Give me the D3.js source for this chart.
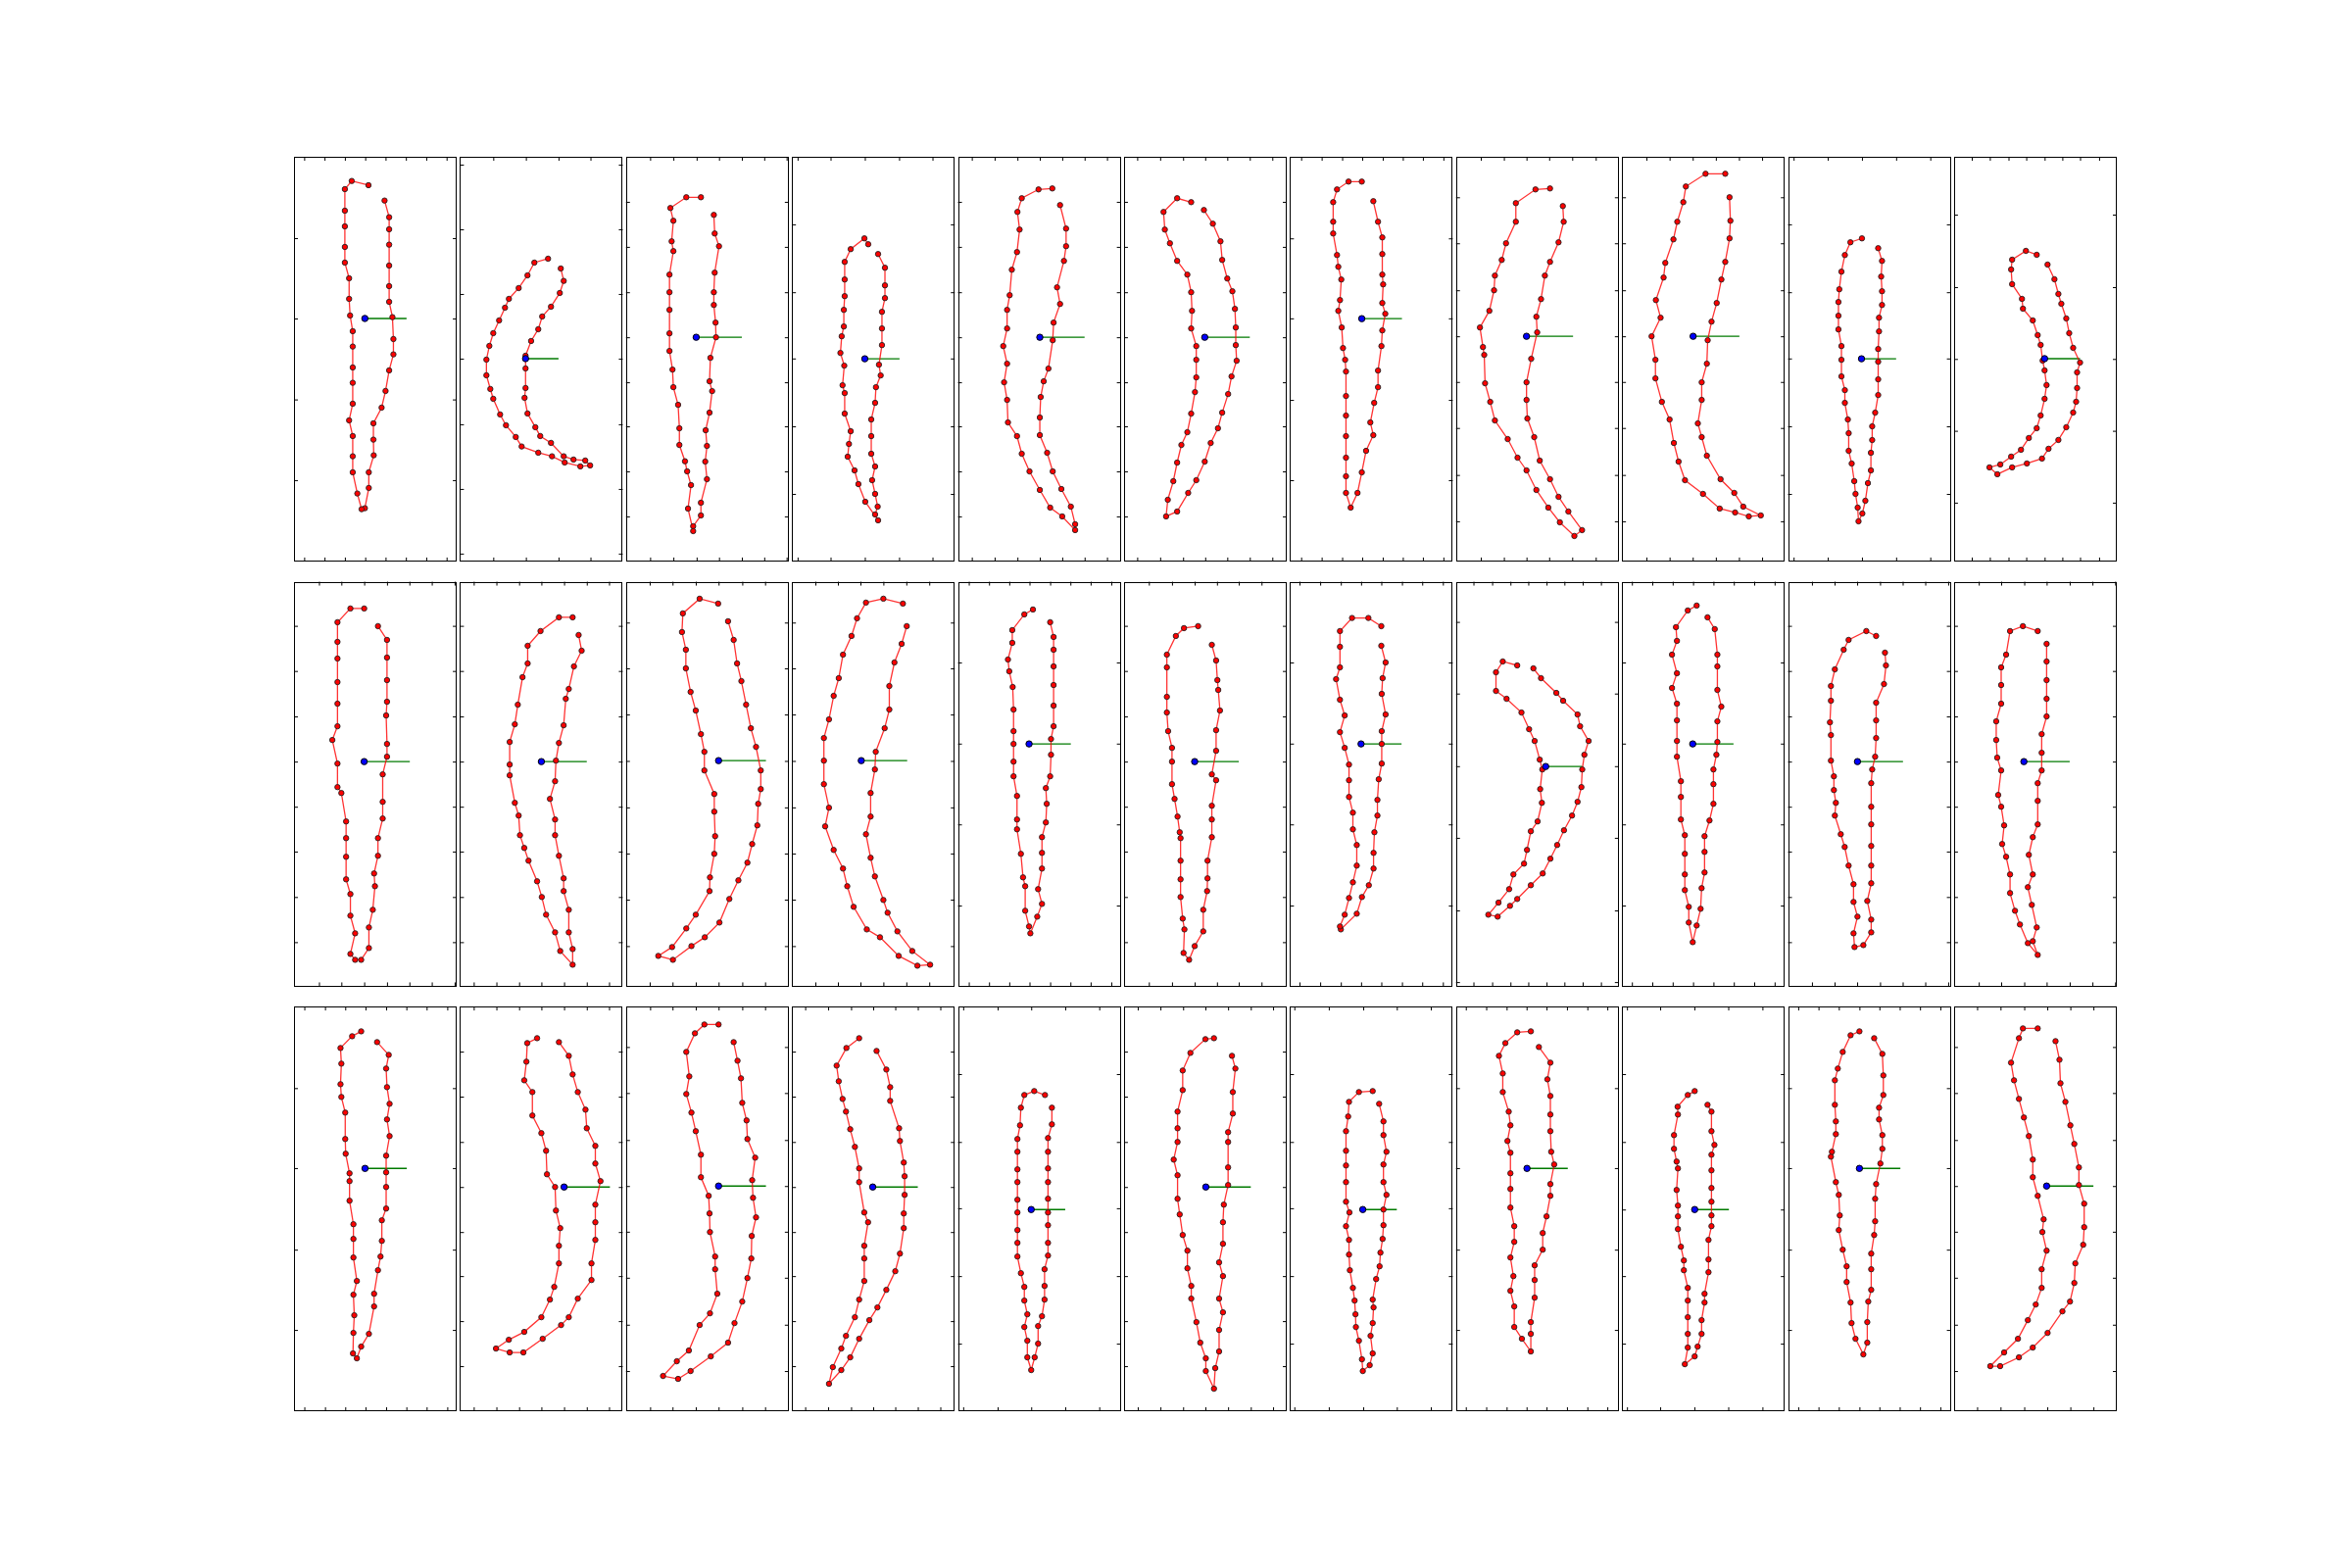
<!DOCTYPE html>
<html><head><meta charset="utf-8">
<script src="https://cdn.jsdelivr.net/npm/d3@7"></script>
<style>body{margin:0;background:#fff}svg{display:block}</style>
</head><body>
<script>
// ---- contour readings, one list per panel (row r, column c), in each panel's own axis units ----
const r1c1 = [[307,165],[321,216],[321,253],[321,300],[321,364],[321,427],[321,475],[331,522],[334,589],[334,636],[321,685],[310,748],[298,799],[273,847],[273,897],[274,945],[259,997],[259,1045],[247,1107],[237,1110],[224,1062],[210,997],[210,948],[210,886],[199,838],[210,787],[210,723],[210,676],[210,612],[210,565],[202,517],[199,466],[199,403],[186,355],[186,307],[186,244],[186,196],[186,130],[207,105],[258,118]];
const r1c2 = [[337,373],[346,411],[334,448],[307,490],[280,520],[268,559],[246,595],[229,640],[229,679],[229,739],[226,769],[235,817],[259,859],[274,886],[307,907],[346,948],[376,958],[412,961],[427,976],[397,979],[349,967],[310,948],[268,937],[217,918],[199,889],[169,853],[151,820],[130,772],[121,742],[109,700],[109,652],[118,610],[130,571],[148,532],[166,493],[178,466],[208,433],[235,394],[256,355],[298,343]];
const r1c3 = [[216,193],[218,250],[228,289],[218,370],[216,430],[216,469],[220,523],[221,568],[208,631],[206,703],[212,733],[206,799],[197,853],[200,901],[196,949],[200,1003],[186,1075],[186,1114],[168,1147],[168,1162],[156,1093],[163,1021],[154,979],[149,948],[136,898],[136,847],[133,775],[122,721],[120,667],[113,610],[113,556],[113,484],[113,430],[113,376],[122,304],[118,274],[122,211],[115,172],[152,139],[186,139]];
const r1c4 = [[601,313],[617,355],[617,409],[617,448],[610,490],[610,541],[610,592],[603,652],[607,685],[596,721],[594,769],[585,820],[585,871],[585,925],[594,964],[587,1006],[594,1048],[600,1087],[594,1111],[601,1129],[571,1072],[555,1018],[546,976],[530,934],[533,895],[537,856],[523,802],[523,739],[518,715],[522,655],[513,616],[516,565],[521,535],[521,484],[523,442],[523,391],[523,337],[537,298],[569,265],[578,283]];
const r1c5 = [[1027,163],[1041,235],[1041,289],[1036,334],[1020,415],[1027,466],[1012,523],[1010,577],[1000,664],[989,703],[982,751],[980,814],[980,868],[997,922],[1010,979],[1030,1033],[1052,1087],[1062,1141],[1062,1159],[1032,1117],[1004,1090],[980,1036],[956,979],[938,925],[927,871],[906,829],[904,760],[897,706],[904,649],[895,595],[904,541],[904,484],[910,439],[915,361],[927,307],[933,238],[928,184],[938,142],[977,115],[1009,112]];
const r1c6 = [[1365,178],[1386,220],[1404,274],[1408,331],[1420,388],[1432,427],[1438,481],[1440,538],[1440,592],[1442,640],[1430,688],[1422,742],[1408,799],[1398,847],[1381,892],[1367,949],[1347,1006],[1328,1045],[1302,1102],[1276,1117],[1280,1066],[1293,1009],[1302,952],[1312,898],[1326,859],[1335,802],[1344,736],[1347,691],[1347,637],[1347,595],[1335,541],[1337,487],[1335,430],[1326,376],[1302,334],[1285,280],[1273,238],[1270,184],[1302,142],[1335,154]];
const r1c7 = [[207,151],[218,214],[228,262],[228,313],[228,376],[230,406],[228,463],[235,496],[228,547],[226,595],[218,670],[218,721],[209,769],[200,829],[207,868],[190,916],[180,982],[170,1045],[154,1090],[143,1045],[143,994],[143,937],[143,871],[143,808],[143,748],[143,673],[141,637],[136,601],[133,538],[125,487],[129,454],[132,391],[125,352],[122,316],[113,250],[113,214],[113,154],[122,115],[149,91],[180,91]];
const r1c8 = [[650,166],[652,214],[640,277],[620,337],[608,379],[599,451],[588,505],[590,553],[576,634],[565,706],[565,760],[567,817],[583,874],[596,946],[620,1003],[640,1057],[663,1102],[695,1159],[677,1177],[643,1135],[616,1090],[588,1036],[565,976],[544,937],[521,880],[491,823],[480,766],[468,709],[466,622],[463,598],[456,538],[478,487],[489,424],[491,379],[507,331],[517,280],[540,214],[540,157],[586,115],[620,112]];
const r1c9 = [[1040,139],[1042,211],[1040,265],[1030,337],[1021,391],[1010,463],[998,520],[989,577],[987,649],[975,706],[975,760],[966,832],[975,874],[987,931],[1019,1003],[1051,1045],[1072,1087],[1113,1114],[1085,1117],[1053,1105],[1017,1093],[978,1048],[936,1006],[921,949],[910,892],[900,820],[882,766],[867,694],[867,637],[858,565],[879,508],[868,454],[886,385],[890,340],[909,268],[918,214],[932,154],[938,106],[984,67],[1030,67]];
const r1c10 = [[1388,295],[1397,334],[1395,382],[1397,427],[1397,469],[1390,508],[1390,550],[1388,604],[1388,643],[1388,697],[1388,745],[1381,799],[1374,841],[1374,883],[1371,922],[1371,976],[1364,1015],[1358,1069],[1351,1108],[1342,1132],[1340,1090],[1335,1048],[1332,1009],[1326,955],[1319,916],[1319,862],[1317,820],[1310,769],[1310,730],[1302,688],[1302,637],[1302,595],[1295,544],[1295,502],[1295,460],[1297,421],[1302,367],[1310,316],[1323,277],[1350,265]];
const r1c11 = [[301,361],[322,406],[334,451],[343,481],[358,526],[367,571],[379,616],[400,661],[391,691],[391,739],[388,781],[379,814],[358,859],[334,898],[304,925],[284,955],[238,970],[193,982],[148,1003],[124,982],[157,973],[190,949],[220,928],[244,892],[268,862],[280,823],[292,772],[298,730],[292,685],[286,655],[280,607],[271,577],[256,532],[226,496],[223,466],[193,421],[190,376],[193,346],[235,319],[268,331]];
const r2c1 = [[207,154],[228,196],[228,250],[228,319],[228,385],[226,427],[228,514],[228,553],[218,607],[218,691],[218,742],[207,802],[207,856],[198,910],[200,949],[195,1021],[186,1075],[186,1138],[168,1174],[154,1174],[143,1156],[154,1093],[143,1039],[143,973],[133,928],[133,859],[133,802],[133,751],[122,664],[113,646],[113,574],[101,502],[113,460],[113,391],[113,325],[113,253],[113,202],[113,142],[143,100],[175,100]];
const r2c2 = [[677,181],[684,229],[666,277],[654,346],[647,376],[642,457],[631,511],[624,565],[622,628],[610,682],[622,745],[622,793],[631,856],[642,925],[642,964],[654,1021],[654,1090],[663,1141],[663,1189],[634,1147],[622,1090],[601,1036],[591,982],[580,934],[560,871],[550,832],[540,793],[537,733],[528,694],[516,610],[516,577],[516,508],[528,454],[535,394],[546,310],[558,268],[558,214],[588,169],[631,127],[663,127]];
const r2c3 = [[1027,139],[1040,196],[1048,268],[1058,322],[1069,394],[1080,466],[1092,523],[1103,595],[1103,652],[1097,697],[1095,763],[1083,820],[1072,877],[1051,931],[1030,988],[1007,1060],[973,1105],[942,1132],[899,1174],[865,1162],[897,1135],[930,1078],[952,1036],[984,964],[985,922],[995,850],[997,796],[995,721],[995,667],[972,595],[972,538],[964,484],[952,412],[940,355],[929,283],[929,226],[920,172],[922,115],[961,70],[1004,85]];
const r2c4 = [[1447,154],[1435,208],[1418,265],[1406,337],[1406,409],[1395,466],[1374,538],[1372,592],[1362,664],[1362,736],[1351,790],[1362,862],[1372,919],[1392,991],[1402,1030],[1425,1087],[1460,1147],[1502,1189],[1472,1192],[1428,1162],[1384,1105],[1353,1081],[1322,1012],[1307,949],[1297,895],[1275,838],[1255,766],[1264,709],[1252,637],[1252,565],[1252,496],[1264,439],[1275,367],[1287,313],[1297,241],[1317,184],[1330,130],[1351,82],[1392,70],[1438,85]];
const r2c5 = [[226,142],[234,187],[234,226],[234,277],[234,334],[234,397],[234,460],[228,499],[228,547],[226,613],[216,649],[218,697],[216,754],[207,799],[207,847],[207,895],[198,958],[207,1003],[196,1042],[180,1093],[177,1072],[168,1024],[168,949],[163,922],[158,850],[149,775],[149,745],[149,673],[141,613],[141,568],[141,514],[141,475],[141,409],[139,340],[131,292],[128,256],[138,205],[138,166],[166,118],[186,103]];
const r2c6 = [[605,211],[615,259],[618,319],[620,349],[624,412],[615,472],[615,535],[605,607],[615,625],[605,703],[605,745],[605,799],[595,871],[595,925],[594,964],[585,1021],[585,1087],[565,1132],[552,1174],[539,1153],[541,1081],[537,1048],[532,982],[532,928],[532,871],[532,802],[530,784],[525,736],[518,682],[512,637],[512,568],[512,526],[503,475],[500,418],[500,370],[500,280],[500,241],[521,184],[540,160],[573,154]];
const r2c7 = [[1002,214],[1012,265],[1005,313],[1003,361],[1012,424],[1003,475],[1003,514],[1003,574],[996,622],[993,685],[993,733],[986,784],[984,847],[984,895],[973,946],[957,982],[945,1033],[908,1081],[906,1072],[917,1036],[927,985],[936,937],[945,886],[945,823],[936,775],[936,724],[927,676],[927,625],[927,577],[917,526],[906,478],[917,427],[906,379],[897,316],[906,280],[906,217],[906,169],[934,129],[972,129],[1002,154]];
const r2c8 = [[1359,283],[1377,313],[1413,358],[1429,382],[1463,424],[1469,460],[1489,505],[1479,547],[1474,592],[1472,646],[1463,691],[1450,733],[1431,778],[1415,823],[1399,865],[1381,910],[1353,946],[1321,988],[1304,1009],[1275,1042],[1253,1036],[1277,999],[1302,958],[1312,913],[1337,880],[1344,838],[1353,781],[1369,751],[1379,694],[1375,652],[1380,592],[1374,562],[1362,505],[1349,469],[1331,418],[1296,376],[1271,352],[1271,295],[1287,262],[1321,274]];
const r2c9 = [[280,127],[302,163],[310,241],[310,277],[310,349],[322,400],[310,445],[310,508],[307,547],[298,592],[298,637],[298,697],[286,748],[271,796],[271,844],[271,907],[262,955],[259,1018],[247,1069],[235,1120],[223,1060],[223,1012],[211,961],[211,913],[211,850],[211,793],[199,745],[199,676],[199,628],[187,553],[187,505],[187,442],[187,391],[172,343],[187,298],[172,241],[187,199],[184,157],[220,106],[247,91]];
const r2c10 = [[823,235],[826,274],[820,331],[796,388],[796,442],[796,496],[793,553],[784,592],[781,634],[781,706],[781,760],[781,826],[781,886],[781,940],[769,994],[781,1051],[781,1090],[757,1129],[730,1135],[727,1093],[739,1042],[727,997],[727,943],[712,886],[700,829],[688,790],[670,733],[673,694],[667,655],[667,613],[658,565],[658,487],[655,448],[658,382],[658,337],[670,286],[697,226],[712,196],[766,169],[796,184]];
const r2c11 = [[1318,208],[1318,262],[1318,319],[1318,376],[1318,430],[1303,484],[1303,541],[1303,595],[1291,634],[1291,688],[1291,760],[1276,799],[1264,853],[1276,913],[1261,952],[1273,1006],[1288,1075],[1276,1117],[1291,1159],[1261,1123],[1237,1066],[1222,1024],[1207,970],[1207,913],[1195,859],[1183,820],[1189,763],[1180,706],[1171,670],[1180,595],[1168,556],[1165,502],[1165,445],[1180,391],[1180,334],[1180,280],[1195,241],[1207,169],[1246,154],[1291,169]];
const r3c1 = [[205,124],[232,163],[226,205],[228,262],[234,313],[228,361],[234,412],[226,472],[226,523],[226,568],[226,634],[216,670],[216,733],[213,781],[207,823],[198,895],[198,934],[186,1018],[168,1057],[158,1093],[149,1078],[150,1015],[152,961],[150,898],[158,856],[150,784],[150,727],[150,682],[141,610],[141,550],[141,526],[132,466],[131,421],[131,340],[122,292],[120,253],[122,190],[120,142],[147,106],[168,91]];
const r3c2 = [[631,124],[654,166],[663,223],[675,277],[693,331],[696,388],[716,442],[716,496],[728,550],[716,622],[716,676],[716,730],[707,802],[707,853],[675,910],[654,967],[636,991],[593,1033],[548,1075],[516,1075],[484,1063],[514,1036],[550,1012],[590,967],[610,913],[620,874],[631,802],[631,748],[634,694],[624,640],[622,568],[603,529],[601,457],[590,403],[569,349],[569,277],[550,241],[555,184],[557,127],[580,112]];
const r3c3 = [[1040,124],[1049,181],[1057,235],[1060,310],[1070,364],[1072,421],[1090,478],[1083,547],[1085,601],[1092,661],[1082,718],[1081,787],[1072,847],[1060,919],[1042,985],[1027,1045],[987,1087],[940,1132],[911,1156],[876,1147],[908,1102],[936,1069],[961,991],[985,955],[1002,895],[997,820],[997,781],[985,706],[984,649],[982,595],[964,538],[964,469],[952,397],[942,340],[930,283],[937,229],[930,154],[950,97],[972,70],[1005,70]];
const r3c4 = [[1376,151],[1399,208],[1408,262],[1408,304],[1429,388],[1431,427],[1440,493],[1442,535],[1442,592],[1440,649],[1440,694],[1431,772],[1420,826],[1399,883],[1378,937],[1359,976],[1335,1033],[1314,1090],[1293,1129],[1264,1171],[1273,1120],[1293,1063],[1304,1024],[1325,967],[1335,913],[1347,856],[1347,787],[1347,748],[1356,676],[1347,646],[1335,553],[1335,511],[1325,445],[1314,391],[1304,337],[1296,298],[1287,244],[1282,196],[1305,142],[1335,112]];
const r3c5 = [[230,325],[230,376],[221,418],[221,460],[221,511],[221,553],[221,604],[221,646],[221,685],[221,739],[221,778],[213,820],[213,871],[213,913],[207,964],[198,994],[198,1048],[190,1090],[182,1129],[173,1090],[173,1039],[166,997],[173,958],[166,916],[166,874],[158,832],[150,781],[150,739],[150,700],[150,646],[150,607],[150,553],[150,514],[150,460],[150,421],[156,379],[158,325],[166,286],[189,274],[214,286]];
const r3c6 = [[652,166],[660,205],[654,277],[654,343],[643,400],[643,430],[643,508],[643,562],[633,622],[631,676],[631,742],[622,799],[631,841],[622,910],[631,952],[622,1006],[622,1072],[613,1123],[610,1186],[591,1132],[591,1093],[578,1045],[569,982],[557,910],[557,871],[548,817],[548,763],[537,715],[530,652],[525,604],[525,532],[516,484],[525,430],[525,388],[525,337],[537,271],[537,211],[555,157],[590,115],[610,112]];
const r3c7 = [[997,313],[1007,367],[1007,409],[1014,460],[1007,499],[1007,553],[1014,592],[1007,637],[1007,685],[1005,727],[1000,769],[998,811],[990,850],[982,913],[984,937],[982,985],[977,1024],[982,1078],[975,1114],[959,1132],[957,1096],[950,1039],[943,997],[942,958],[940,916],[936,877],[929,823],[927,775],[927,730],[920,688],[928,646],[920,613],[920,553],[920,502],[920,457],[920,397],[925,352],[927,307],[950,277],[982,274]];
const r3c8 = [[1372,139],[1399,187],[1392,238],[1399,289],[1399,346],[1399,397],[1401,460],[1408,499],[1399,559],[1399,595],[1390,658],[1381,709],[1381,760],[1362,808],[1362,853],[1362,907],[1353,982],[1353,1018],[1353,1072],[1332,1033],[1314,997],[1314,934],[1305,886],[1312,841],[1305,784],[1314,736],[1314,688],[1305,631],[1305,574],[1305,526],[1305,463],[1298,427],[1305,379],[1301,337],[1287,277],[1287,220],[1278,166],[1293,127],[1321,94],[1353,91]];
const r3c9 = [[280,316],[292,337],[292,397],[301,439],[292,469],[292,517],[292,571],[292,613],[292,655],[292,688],[283,730],[283,790],[283,829],[271,895],[271,922],[262,976],[262,1018],[250,1057],[241,1087],[211,1111],[220,1060],[220,1018],[220,967],[220,916],[220,877],[208,823],[208,793],[199,751],[190,697],[190,658],[190,625],[186,577],[190,511],[186,490],[178,451],[178,409],[190,346],[189,322],[220,286],[241,274]];
const r3c10 = [[790,112],[815,160],[818,226],[818,286],[805,325],[805,361],[815,409],[815,451],[809,496],[796,559],[793,604],[793,673],[790,715],[781,772],[781,820],[781,883],[772,919],[769,982],[769,1045],[757,1081],[733,1033],[721,985],[718,922],[706,859],[706,811],[694,760],[682,700],[685,655],[682,592],[673,553],[658,475],[661,460],[673,406],[673,367],[670,316],[670,241],[679,205],[694,154],[718,103],[745,91]];
const r3c11 = [[1345,121],[1357,178],[1360,250],[1375,307],[1390,379],[1402,436],[1416,508],[1416,562],[1432,619],[1432,691],[1429,745],[1405,802],[1402,862],[1389,919],[1366,949],[1321,1015],[1276,1060],[1234,1090],[1177,1117],[1147,1117],[1189,1075],[1231,1033],[1261,976],[1285,928],[1303,877],[1303,820],[1318,763],[1305,706],[1309,667],[1291,595],[1276,538],[1276,484],[1264,412],[1249,355],[1234,298],[1219,241],[1210,187],[1234,112],[1246,82],[1291,82]];

// centre point of each panel, and x value where the green vector ends
const centers = [
  [247,526],[229,649],[175,568],[570,634],[980,568],[1367,568],[180,511],[565,565],[955,565],[1349,634],[292,649],
  [175,568],[590,568],[1005,565],[1340,565],[177,514],[565,568],[955,514],[1388,583],[235,514],[739,568],[1249,568],
  [177,511],[643,568],[1005,565],[1367,568],[182,637],[591,568],[959,637],[1344,511],[241,637],[745,511],[1318,565]
];
const vectorEndX = [
  374,330,281,651,1084,1473,274,674,1063,1430,400,
  281,696,1115,1448,274,668,1049,1474,359,878,1388,
  274,750,1115,1473,261,696,1038,1440,345,870,1460
];

// axis limits of each panel
const xLimits = [
  [31,527],[28,527],[12,390],[400,780],[790,1168],[1177,1560],[12,393],[400,781],[789,1169],[1177,1558],[16,512],
  [12,390],[400,780],[790,1168],[1177,1560],[12,390],[400,780],[790,1168],[1177,1560],[20,515],[527,1024],[1037,1531],
  [12,390],[400,780],[790,1168],[1177,1560],[12,390],[400,780],[790,1168],[1177,1560],[20,515],[527,1024],[1037,1531]
];
const yLimits = [
  [31,1270],[31,1270],[15,1255],[15,1255],[15,1255],[15,1255],[15,1255],[15,1255],[15,1255],[15,1255],[31,1270],
  [18,1255],[18,1255],[18,1255],[18,1255],[18,1255],[18,1255],[18,1255],[18,1255],[18,1255],[18,1255],[18,1255],
  [15,1255],[15,1255],[15,1255],[15,1255],[15,1255],[15,1255],[15,1255],[15,1255],[15,1255],[15,1255],[15,1255]
];

// tick values (no labels are shown)
const xTickValues = [
  [62,124,186,248,310,372,434,496],[130,230,330,428],[68,122,176,228,281,333,385],[413,490,570,650,728],
  [822,875,928,980,1032,1084,1136],[1208,1262,1316,1368,1420,1473,1526],[38,86,134,181,229,276,323,371],
  [458,512,565,618,672,727],[846,900,954,1008,1062,1116],[1190,1270,1350,1430,1510],[70,125,182,236,292,346,400,458],
  [70,122,175,228,280,332,385],[432,485,538,590,643,696,748],[845,898,952,1005,1060,1113],[1232,1285,1338,1392,1446,1500],
  [37,84,131,178,226,273,320,368],[458,512,565,617,668,721],[812,860,908,955,1002,1050,1097,1145],
  [1218,1262,1305,1347,1390,1432,1475,1518],[50,112,174,236,298,360,422,484],[600,669,738,808,877,946,1016],
  [1112,1180,1250,1318,1388,1457,1526],
  [36,84,131,178,226,273,320,368],[432,485,538,590,643,696,748],[846,898,952,1005,1060,1113],[1208,1262,1316,1368,1420,1473,1526],
  [24,104,182,261,340],[432,485,538,590,643,696,748],[800,880,960,1038,1117],[1200,1248,1296,1343,1390,1438,1486,1533],
  [35,136,240,343,447],[558,620,682,745,806,868,930,992],[1107,1178,1250,1320,1390,1460]
];
const yTickValues = [
  [280,526,774,1021],[55,253,451,649,850,1048,1246],[153,291,430,568,706,841,979,1117],[222,430,633,841,1048],
  [153,291,430,568,706,841,979,1117],[153,291,430,568,706,841,979,1117],[265,510,760,1006],
  [139,280,424,565,705,846,990,1132],[139,280,424,565,705,846,990,1132],[222,430,633,841,1048],[208,430,650,870,1090],
  [153,291,430,568,706,843,982,1120],[153,291,430,568,706,843,982,1120],[143,283,424,566,708,849,990,1132],[143,283,424,566,708,849,990,1132],
  [265,513,760,1008],[153,291,430,568,706,843,982,1120],[265,513,760,1008],[141,360,582,801,1023,1242],
  [265,513,760,1008],[153,291,430,568,706,843,982,1120],[153,291,430,568,706,843,982,1120],
  [265,510,760,1006],[153,291,430,568,706,841,979,1117],[139,280,424,565,705,846,990,1132],[153,291,430,568,706,841,979,1117],
  [222,430,633,841,1048],[153,291,430,568,706,841,979,1117],[222,430,633,841,1048],[265,510,760,1006],
  [222,430,637,841,1048],[265,510,760,1006],[139,280,424,565,705,846,990,1132]
];

const contours = [r1c1,r1c2,r1c3,r1c4,r1c5,r1c6,r1c7,r1c8,r1c9,r1c10,r1c11,
                  r2c1,r2c2,r2c3,r2c4,r2c5,r2c6,r2c7,r2c8,r2c9,r2c10,r2c11,
                  r3c1,r3c2,r3c3,r3c4,r3c5,r3c6,r3c7,r3c8,r3c9,r3c10,r3c11];

// ---- layout ----
const W = 2400, H = 1600;
const plotL = 300, plotR = 2160, plotT = 160, plotB = 1440;
const nCols = 11, nRows = 3, wspace = 0.02, hspace = 0.05;
const cellW = (plotR - plotL) / (nCols + (nCols - 1) * wspace);
const cellH = (plotB - plotT) / (nRows + (nRows - 1) * hspace);

const svg = d3.select("body").append("svg").attr("width", W).attr("height", H)
  .style("background", "#fff");

contours.forEach((pts, i) => {
  const r = Math.floor(i / nCols), c = i % nCols;
  const x0 = plotL + c * cellW * (1 + wspace);
  const y0 = plotT + r * cellH * (1 + hspace);
  const x = d3.scaleLinear().domain(xLimits[i]).range([x0, x0 + cellW]);
  const y = d3.scaleLinear().domain(yLimits[i]).range([y0, y0 + cellH]);
  const g = svg.append("g");

  // green vector from the centre
  g.append("line")
    .attr("x1", x(centers[i][0])).attr("y1", y(centers[i][1]))
    .attr("x2", x(vectorEndX[i])).attr("y2", y(centers[i][1]))
    .attr("stroke", "#007a00").attr("stroke-width", 1.4);

  // contour
  g.append("path").datum(pts)
    .attr("d", d3.line().x(d => x(d[0])).y(d => y(d[1])))
    .attr("fill", "none").attr("stroke", "#ff0000").attr("stroke-opacity", 0.8)
    .attr("stroke-width", 1.3);
  g.selectAll("circle.pt").data(pts).join("circle").attr("class", "pt")
    .attr("cx", d => x(d[0])).attr("cy", d => y(d[1])).attr("r", 2.7)
    .attr("fill", "#ff0000").attr("stroke", "#222").attr("stroke-opacity", 0.9).attr("stroke-width", 1);

  // centre
  g.append("circle").attr("cx", x(centers[i][0])).attr("cy", y(centers[i][1])).attr("r", 3.2)
    .attr("fill", "#0000ff").attr("stroke", "#000").attr("stroke-width", 1);

  // ticks on all four sides, pointing inward
  const [xl, xr] = xLimits[i], [yt, yb] = yLimits[i];
  const xt = xTickValues[i].filter(v => v > xl && v < xr);
  const ytv = yTickValues[i].filter(v => v > yt && v < yb);
  const axes = [
    [d3.axisBottom(x).tickValues(xt), `translate(0,${y0 + cellH})`],
    [d3.axisTop(x).tickValues(xt), `translate(0,${y0})`],
    [d3.axisLeft(y).tickValues(ytv), `translate(${x0},0)`],
    [d3.axisRight(y).tickValues(ytv), `translate(${x0 + cellW},0)`]
  ];
  axes.forEach(([ax, tr]) => {
    const a = g.append("g").attr("transform", tr)
      .call(ax.tickSize(-4).tickFormat(""));
    a.select(".domain").remove();
    a.selectAll(".tick line").attr("stroke", "#000").attr("stroke-width", 1);
  });

  // frame
  g.append("rect")
    .attr("x", Math.round(x0) + 0.5).attr("y", Math.round(y0) + 0.5)
    .attr("width", Math.round(cellW) - 1).attr("height", Math.round(cellH) - 1)
    .attr("fill", "none").attr("stroke", "#000").attr("stroke-width", 1);
});
</script>
</body></html>
